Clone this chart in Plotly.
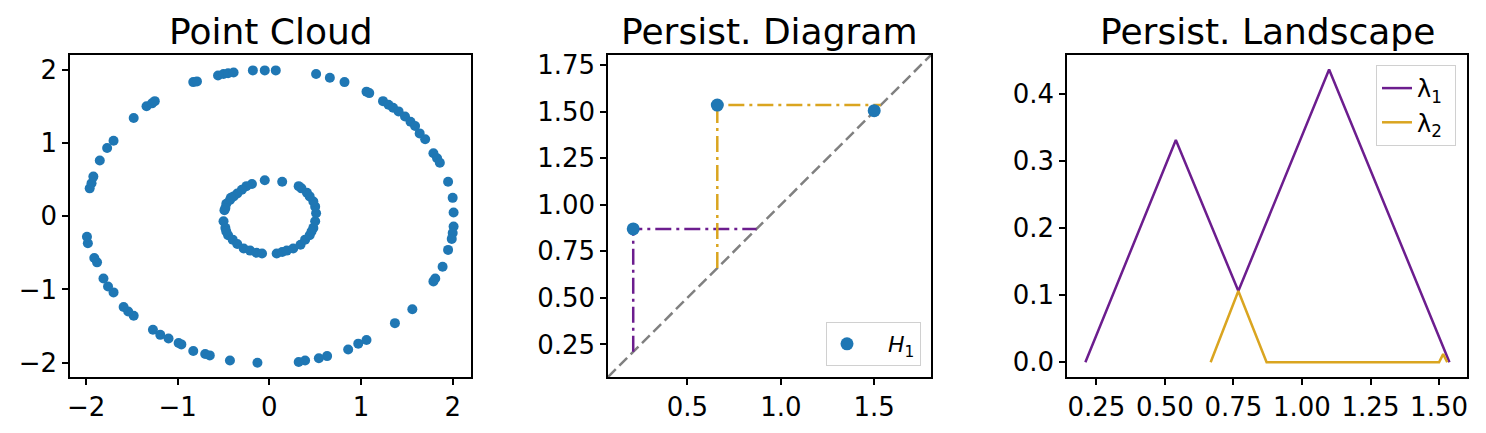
import plotly.graph_objects as go
from plotly.subplots import make_subplots

# point cloud: outer ring (r~2) and inner ring (r~0.5)
outer_x = [-0.83, -0.79, -0.56, -0.50, -0.45, -0.39, -0.18, -0.05, 0.07, 0.51, 0.66, 0.82,
           1.06, 1.09, 1.24, 1.30, 1.35, 1.41, 1.48, 1.54, 1.59, 1.64, 1.70, 1.79, 1.83, 1.86,
           1.95, 2.00, 2.01, 2.01, 2.00, 1.99, 1.95, 1.89, 1.81, 1.79, 1.56, 1.37, 1.06, 0.97,
           0.86, 0.63, 0.54, 0.39, 0.32, -0.13, -0.43, -0.65, -0.70, -0.83, -0.96, -0.99,
           -1.10, -1.19, -1.27, -1.48, -1.54, -1.59, -1.70, -1.76, -1.81, -1.88, -1.91, -1.98,
           -1.99, -1.96, -1.94, -1.92, -1.85, -1.77, -1.70, -1.48, -1.34, -1.28, -1.25]
outer_y = [1.83, 1.84, 1.92, 1.94, 1.95, 1.96, 1.99, 1.99, 1.99, 1.94, 1.89, 1.83,
           1.70, 1.68, 1.57, 1.52, 1.48, 1.43, 1.36, 1.29, 1.23, 1.13, 1.05, 0.86, 0.79, 0.73,
           0.47, 0.25, 0.05, -0.14, -0.23, -0.31, -0.46, -0.69, -0.85, -0.89, -1.27, -1.46, -1.69, -1.74,
           -1.82, -1.91, -1.94, -1.97, -1.99, -2.00, -1.97, -1.90, -1.88, -1.84, -1.75, -1.73,
           -1.67, -1.62, -1.55, -1.36, -1.30, -1.24, -1.04, -0.96, -0.85, -0.63, -0.57, -0.37,
           -0.28, 0.38, 0.45, 0.54, 0.76, 0.93, 1.03, 1.34, 1.50, 1.54, 1.57]
inner_x = [-0.05, 0.14, -0.19, -0.25, -0.30, -0.35, -0.39, -0.43, -0.47, -0.48, -0.49,
           -0.50, -0.48, -0.45, -0.40, -0.35, -0.28, -0.21, -0.14, -0.08,
           0.08, 0.14, 0.19, 0.26, 0.34, 0.39, 0.44, 0.48, 0.50, 0.51, 0.50, 0.48,
           0.44, 0.41, 0.35, 0.32, 0.46, -0.47, -0.42]
inner_y = [0.49, 0.47, 0.44, 0.41, 0.36, 0.31, 0.27, 0.22, 0.17, 0.11, 0.08,
           -0.07, -0.16, -0.26, -0.32, -0.38, -0.44, -0.47, -0.50, -0.51,
           -0.51, -0.49, -0.47, -0.44, -0.39, -0.32, -0.26, -0.16, -0.07, 0.04, 0.13, 0.20,
           0.27, 0.32, 0.38, 0.41, -0.21, -0.21, 0.25]

# persistence diagram (H1)
births = [0.21, 0.66, 1.50]
deaths = [0.87, 1.535, 1.505]
diag_lims = [0.075, 1.804]

# persistence landscape breakpoints
lam1_x = [0.21, 0.54, 0.768, 1.099, 1.538]
lam1_y = [0.0, 0.331, 0.106, 0.436, 0.0]
lam2_x = [0.667, 0.768, 0.871, 1.50, 1.515, 1.53]
lam2_y = [0.0, 0.106, 0.0, 0.0, 0.012, 0.0]

BLUE = "#1f77b4"
PURPLE = "#6c1d8e"
GOLD = "#daa520"
pair_colors = [PURPLE, GOLD]

W, H = 1486, 433
OFF = 8  # page body margin


def px(x):
    return (x - OFF) / W


def py(y):
    return 1 - (y - OFF) / H


fig = make_subplots(rows=1, cols=3)

fig.add_trace(go.Scatter(x=outer_x + inner_x, y=outer_y + inner_y, mode="markers",
                         marker=dict(size=10, color=BLUE), showlegend=False), row=1, col=1)

fig.add_trace(go.Scatter(x=diag_lims, y=diag_lims, mode="lines",
                         line=dict(color="gray", width=2.5, dash="11px,5px"), showlegend=False),
              row=1, col=2)
for b, d, c in zip(births[:2], deaths[:2], pair_colors):
    fig.add_trace(go.Scatter(x=[b, b, d], y=[b, d, d], mode="lines",
                             line=dict(color=c, width=2.5, dash="16px,5px,3px,5px"), showlegend=False),
                  row=1, col=2)
fig.add_trace(go.Scatter(x=births, y=deaths, mode="markers", name="   <i>H</i><sub>1</sub>",
                         marker=dict(size=13, color=BLUE), legend="legend"), row=1, col=2)

fig.add_trace(go.Scatter(x=lam1_x, y=lam1_y, mode="lines", name="λ<sub>1</sub> ",
                         line=dict(color=PURPLE, width=2.5), legend="legend2"), row=1, col=3)
fig.add_trace(go.Scatter(x=lam2_x, y=lam2_y, mode="lines", name="λ<sub>2</sub> ",
                         line=dict(color=GOLD, width=2.5), legend="legend2"), row=1, col=3)

axis_style = dict(showline=True, linecolor="black", linewidth=1.5, mirror=True,
                  ticks="outside", ticklen=6, tickwidth=1.5, tickcolor="black", automargin=False,
                  showgrid=False, zeroline=False, tickfont=dict(size=26, color="black"))

y0, y1 = py(377), py(55)
fig.update_layout(
    width=W, height=H,
    margin=dict(l=0, r=0, t=0, b=0),
    paper_bgcolor="white", plot_bgcolor="white",
    font=dict(family="DejaVu Sans", color="black"),
    xaxis=dict(domain=[px(70), px(471)], range=[-2.175, 2.2], tickvals=[-2, -1, 0, 1, 2], **axis_style),
    yaxis=dict(domain=[y0, y1], range=[-2.195, 2.2], tickvals=[-2, -1, 0, 1, 2], **axis_style),
    xaxis2=dict(domain=[px(608), px(931)], range=diag_lims, tickvals=[0.5, 1.0, 1.5],
                tickformat=".1f", **axis_style),
    yaxis2=dict(domain=[y0, y1], range=diag_lims, tickvals=[0.25, 0.5, 0.75, 1.0, 1.25, 1.5, 1.75],
                tickformat=".2f", **axis_style),
    xaxis3=dict(domain=[px(1067), px(1467)], range=[0.143, 1.602],
                tickvals=[0.25, 0.5, 0.75, 1.0, 1.25, 1.5], tickformat=".2f", **axis_style),
    yaxis3=dict(domain=[y0, y1], range=[-0.022, 0.4576], tickvals=[0, 0.1, 0.2, 0.3, 0.4],
                tickformat=".1f", **axis_style),
    legend=dict(x=px(921), y=py(366), xanchor="right", yanchor="bottom",
                bordercolor="#d0d0d0", borderwidth=1, bgcolor="white", font=dict(size=22)),
    legend2=dict(x=px(1456), y=py(65), xanchor="right", yanchor="top",
                 bordercolor="#d0d0d0", borderwidth=1, bgcolor="white", font=dict(size=24)),
)

titles = [("Point Cloud", 270.5), ("Persist. Diagram", 769.5), ("Persist. Landscape", 1267)]
for text, cx in titles:
    fig.add_annotation(text=text, x=px(cx), y=py(32), xref="paper", yref="paper",
                       xanchor="center", yanchor="middle", showarrow=False,
                       font=dict(size=36, color="black"))

fig.write_html("out.html")
